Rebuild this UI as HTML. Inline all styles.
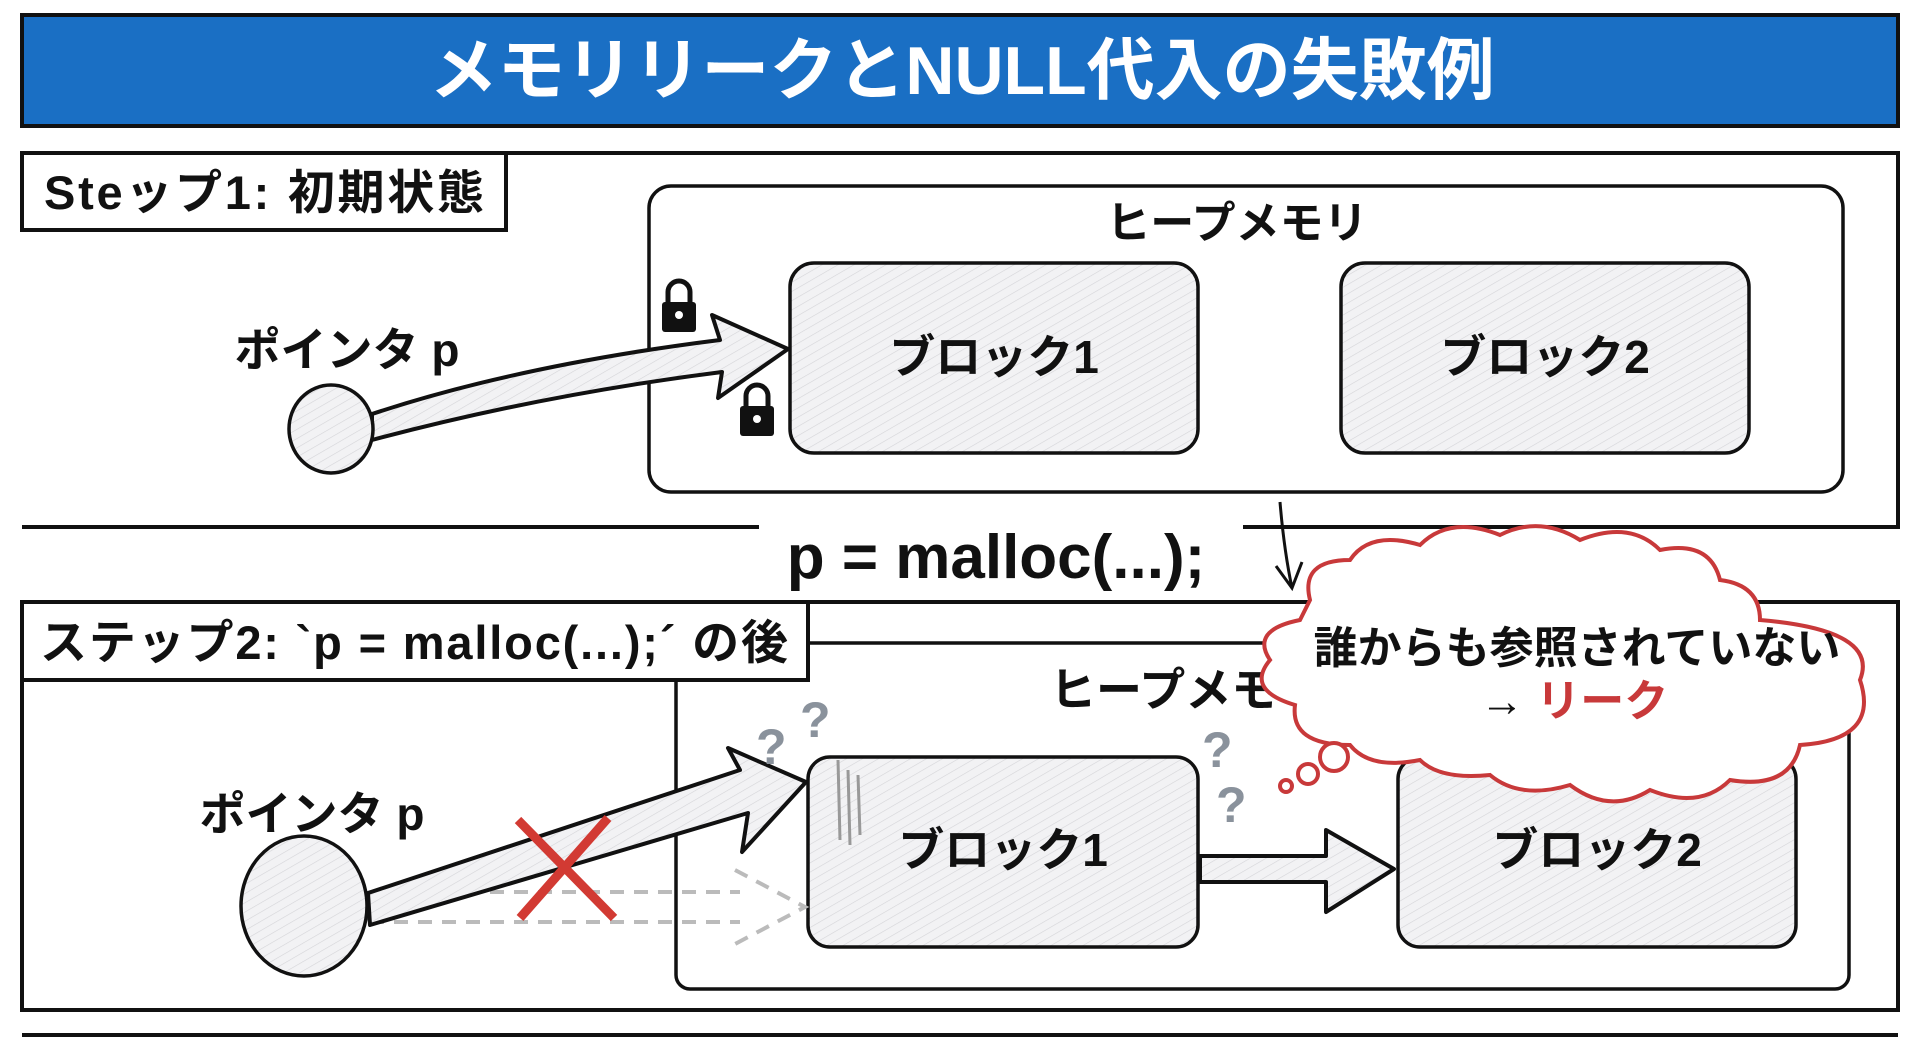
<!DOCTYPE html>
<html><head><meta charset="utf-8"><style>
html,body{margin:0;padding:0;background:#fff;}
svg{display:block;}
text{font-family:"Liberation Sans","Noto Sans CJK JP",sans-serif;font-weight:bold;}
</style></head><body>
<svg width="1920" height="1047" viewBox="0 0 1920 1047" xmlns="http://www.w3.org/2000/svg">
<defs>
<pattern id="h" width="8" height="8" patternUnits="userSpaceOnUse" patternTransform="rotate(60)">
<rect width="8" height="8" fill="#f2f2f4"/><line x1="0" y1="0" x2="0" y2="8" stroke="#d4d4d8" stroke-width="1.2"/>
</pattern>
</defs>
<!-- title -->
<rect x="22" y="15" width="1876" height="111" fill="#1a6fc4" stroke="#111" stroke-width="4"/>
<text x="962" y="94" font-size="68" fill="#fff" text-anchor="middle">メモリリークとNULL代入の失敗例</text>

<!-- step1 panel -->
<path d="M22 153 H1898 V527 H1243 M759 527 H22 Z" fill="none" stroke="#111" stroke-width="4"/>
<rect x="22" y="153" width="484" height="77" fill="#fff" stroke="#111" stroke-width="4"/>
<text x="44" y="209" font-size="47" fill="#111" textLength="440">Steップ1: 初期状態</text>
<rect x="649" y="186" width="1194" height="306" rx="22" fill="none" stroke="#111" stroke-width="3.5"/>
<text x="1237" y="238" font-size="44" fill="#111" text-anchor="middle">ヒープメモリ</text>
<rect x="790" y="263" width="408" height="190" rx="24" fill="url(#h)" stroke="#111" stroke-width="3.5"/>
<rect x="1341" y="263" width="408" height="190" rx="24" fill="url(#h)" stroke="#111" stroke-width="3.5"/>
<text x="994" y="373" font-size="46" fill="#111" text-anchor="middle">ブロック1</text>
<text x="1545" y="373" font-size="46" fill="#111" text-anchor="middle">ブロック2</text>
<text x="347" y="366" font-size="46" fill="#111" text-anchor="middle">ポインタ p</text>
<path d="M372 414 Q520 365 720 340 L712 315 L788 349 L718 398 L722 372 Q540 395 372 440 Z" fill="url(#h)" stroke="#111" stroke-width="4" stroke-linejoin="round"/>
<ellipse cx="331" cy="429" rx="42" ry="44" fill="url(#h)" stroke="#111" stroke-width="3.5"/>
<!-- locks -->
<g fill="#111"><rect x="662" y="302" width="34" height="30" rx="3"/><path d="M668 302 v-10 a11 11 0 0 1 22 0 v10" fill="none" stroke="#111" stroke-width="5"/><circle cx="679" cy="315" r="4" fill="#fff"/></g>
<g fill="#111"><rect x="740" y="406" width="34" height="30" rx="3"/><path d="M746 406 v-10 a11 11 0 0 1 22 0 v10" fill="none" stroke="#111" stroke-width="5"/><circle cx="757" cy="419" r="4" fill="#fff"/></g>

<!-- malloc -->
<text x="996" y="578" font-size="62" fill="#111" text-anchor="middle">p = malloc(...);</text>
<path d="M1280 502 Q1284 550 1292 588 M1276 566 L1292 588 L1302 562" fill="none" stroke="#111" stroke-width="3"/>

<!-- step2 panel -->
<rect x="22" y="602" width="1876" height="408" fill="none" stroke="#111" stroke-width="4"/>
<rect x="676" y="643" width="1173" height="346" rx="14" fill="none" stroke="#111" stroke-width="3.5"/>
<rect x="22" y="602" width="786" height="78" fill="#fff" stroke="#111" stroke-width="4"/>
<text x="40" y="659" font-size="47" fill="#111" textLength="748">ステップ2: `p = malloc(...);´ の後</text>
<text x="1050" y="706" font-size="46" fill="#111">ヒープメモリ</text>
<rect x="808" y="757" width="390" height="190" rx="22" fill="url(#h)" stroke="#111" stroke-width="3.5"/>
<rect x="1398" y="757" width="398" height="190" rx="22" fill="url(#h)" stroke="#111" stroke-width="3.5"/>
<text x="1003" y="866" font-size="46" fill="#111" text-anchor="middle">ブロック1</text>
<text x="1597" y="866" font-size="46" fill="#111" text-anchor="middle">ブロック2</text>
<g stroke="#999" stroke-width="3"><line x1="838" y1="760" x2="840" y2="840"/><line x1="848" y1="770" x2="850" y2="845"/><line x1="858" y1="775" x2="860" y2="835"/></g>
<text x="312" y="830" font-size="46" fill="#111" text-anchor="middle">ポインタ p</text>
<!-- dashed arrow -->
<path d="M370 892 H740 M370 922 H740 M735 870 L805 907 L735 944" fill="none" stroke="#bbb" stroke-width="4" stroke-dasharray="14 10"/>
<!-- solid arrow -->
<path d="M368 893 L740 770 L728 748 L806 782 L742 852 L748 813 L370 925 Z" fill="url(#h)" stroke="#111" stroke-width="4" stroke-linejoin="round"/>
<ellipse cx="304" cy="906" rx="63" ry="70" fill="url(#h)" stroke="#111" stroke-width="3.5"/>
<!-- red X -->
<path d="M518 820 L614 918 M608 818 L520 918" stroke="#d23a33" stroke-width="9"/>
<!-- block1->block2 arrow -->
<path d="M1200 856 H1326 V830 L1394 869 L1326 912 V882 H1200 Z" fill="url(#h)" stroke="#111" stroke-width="4" stroke-linejoin="round"/>
<!-- question marks -->
<g fill="#8a929c" font-size="50"><text x="756" y="764">?</text><text x="800" y="737">?</text><text x="1202" y="767">?</text><text x="1216" y="822">?</text></g>
<!-- cloud -->
<path d="M1310 600 Q1300 560 1350 560 Q1370 530 1420 545 Q1450 515 1500 535 Q1540 515 1580 540 Q1630 520 1660 550 Q1710 540 1720 580 Q1760 585 1760 620 Q1880 630 1860 680 Q1880 740 1800 745 Q1790 790 1730 780 Q1700 810 1650 790 Q1610 815 1570 785 Q1520 800 1490 775 Q1440 780 1420 760 Q1370 770 1350 745 Q1290 745 1295 705 Q1245 690 1270 660 Q1250 630 1300 620 Z" fill="#fff" stroke="#c8393a" stroke-width="4"/>
<g fill="#fff" stroke="#c8393a" stroke-width="4"><circle cx="1334" cy="757" r="14"/><circle cx="1308" cy="774" r="10"/><circle cx="1286" cy="786" r="6"/></g>
<text x="1577" y="663" font-size="44" fill="#111" text-anchor="middle">誰からも参照されていない</text>
<text x="1480" y="716" font-size="44" fill="#111">→ <tspan fill="#c8393a">リーク</tspan></text>

<!-- bottom line -->
<line x1="22" y1="1035" x2="1898" y2="1035" stroke="#111" stroke-width="4"/>
</svg>
</body></html>
